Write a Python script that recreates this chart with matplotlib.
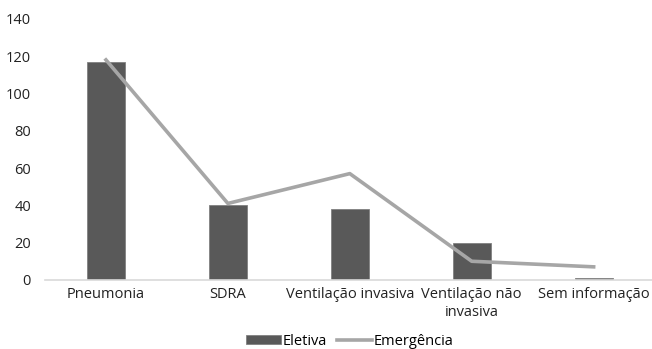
import numpy as np
import matplotlib.pyplot as plt
from matplotlib.transforms import offset_copy

categorias = ['Pneumonia', 'SDRA', 'Ventilação invasiva', 'Ventilação não\ninvasiva', 'Sem informação']
eletiva = [117, 40, 38, 20, 1]
emergencia = [118, 41, 57, 10, 7]
yticks = [0, 20, 40, 60, 80, 100, 120, 140]

plt.rcParams['font.family'] = 'Open Sans'

fig = plt.figure(figsize=(6.52, 3.49), dpi=100)
ax = fig.add_axes([0.069, 0.198, 0.935, 0.748])

x = np.arange(len(categorias))
barras = ax.bar(x, eletiva, width=0.31, color='#595959', edgecolor='#808080', linewidth=0.6,
                label='Eletiva', zorder=2)
linha, = ax.plot(x, emergencia, color='#a6a6a6', linewidth=2.6, label='Emergência', zorder=3)

ax.set_xlim(-0.5, 4.5)
ax.set_ylim(0, 140)
ax.set_yticks(yticks)
ax.set_xticks(x)
ax.set_xticklabels([])
ax.tick_params(axis='y', labelsize=10.5, colors='#222222', length=0, pad=10)
ax.tick_params(axis='x', length=0)

# rótulos das categorias: uma linha de texto por vez, centralizada sob a barra
for xi, nome in zip(x, categorias):
    for k, parte in enumerate(nome.split('\n')):
        trans = offset_copy(ax.get_xaxis_transform(), fig=fig, y=-5 - 13 * k, units='points')
        ax.text(xi, 0, parte, transform=trans, ha='center', va='top', fontsize=10.5,
                color='#222222')

for s in ['top', 'right', 'left']:
    ax.spines[s].set_visible(False)
ax.spines['bottom'].set_color('#d9d9d9')
ax.spines['bottom'].set_linewidth(1.2)

ax.legend([barras, linha], ['Eletiva', 'Emergência'], loc='center',
          bbox_to_anchor=(0.5, -0.235), ncol=2, frameon=False,
          fontsize=10.5, handlelength=2.4, handleheight=0.5, handletextpad=0.1,
          columnspacing=0.7, borderaxespad=0)

fig.savefig('out.png', dpi=100)
